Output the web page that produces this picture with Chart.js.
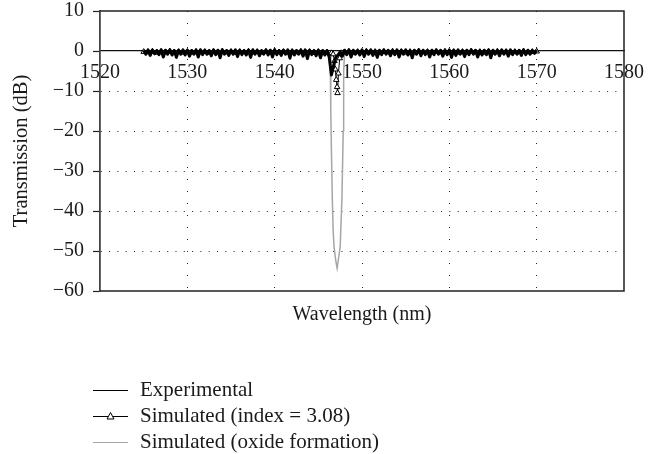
<!DOCTYPE html>
<html>
<head>
<meta charset="utf-8">
<script src="https://cdn.jsdelivr.net/npm/chart.js@4.4.1/dist/chart.umd.min.js"></script>
<style>
  html, body { margin: 0; padding: 0; background: #fff; }
  canvas { display: block; }
</style>
</head>
<body>
<canvas id="specChart" width="659" height="454"></canvas>
<script>
// Experimental spectrum (dense fringes around 0 dB, dip near 1546.5 nm)
const expWavelength = [
  1525, 1525.25, 1525.5, 1525.75, 1526, 1526.25, 1526.5, 1526.75, 1527, 1527.25, 1527.5, 1527.75,
  1528, 1528.25, 1528.5, 1528.75, 1529, 1529.25, 1529.5, 1529.75, 1530, 1530.25, 1530.5, 1530.75,
  1531, 1531.25, 1531.5, 1531.75, 1532, 1532.25, 1532.5, 1532.75, 1533, 1533.25, 1533.5, 1533.75,
  1534, 1534.25, 1534.5, 1534.75, 1535, 1535.25, 1535.5, 1535.75, 1536, 1536.25, 1536.5, 1536.75,
  1537, 1537.25, 1537.5, 1537.75, 1538, 1538.25, 1538.5, 1538.75, 1539, 1539.25, 1539.5, 1539.75,
  1540, 1540.25, 1540.5, 1540.75, 1541, 1541.25, 1541.5, 1541.75, 1542, 1542.25, 1542.5, 1542.75,
  1543, 1543.25, 1543.5, 1543.75, 1544, 1544.25, 1544.5, 1544.75, 1545, 1545.25, 1545.5, 1545.75,
  1546, 1546.25, 1546.5, 1546.75, 1547, 1547.25, 1547.5, 1547.75, 1548, 1548.25, 1548.5, 1548.75,
  1549, 1549.25, 1549.5, 1549.75, 1550, 1550.25, 1550.5, 1550.75, 1551, 1551.25, 1551.5, 1551.75,
  1552, 1552.25, 1552.5, 1552.75, 1553, 1553.25, 1553.5, 1553.75, 1554, 1554.25, 1554.5, 1554.75,
  1555, 1555.25, 1555.5, 1555.75, 1556, 1556.25, 1556.5, 1556.75, 1557, 1557.25, 1557.5, 1557.75,
  1558, 1558.25, 1558.5, 1558.75, 1559, 1559.25, 1559.5, 1559.75, 1560, 1560.25, 1560.5, 1560.75,
  1561, 1561.25, 1561.5, 1561.75, 1562, 1562.25, 1562.5, 1562.75, 1563, 1563.25, 1563.5, 1563.75,
  1564, 1564.25, 1564.5, 1564.75, 1565, 1565.25, 1565.5, 1565.75, 1566, 1566.25, 1566.5, 1566.75,
  1567, 1567.25, 1567.5, 1567.75, 1568, 1568.25, 1568.5, 1568.75, 1569, 1569.25, 1569.5, 1569.75,
  1570
];
const expDb = [
  0.2, -0.8, 0.3, -1.1, 0.2, -0.7, 0.1, -0.9, 0.3, -1.5, 0.2, -0.8,
  0.3, -1.0, 0.1, -1.6, 0.2, -0.8, 0.3, -1.0, 0.2, -1.3, 0.1, -0.8,
  0.2, -1.5, 0.3, -0.9, 0.2, -0.8, 0.1, -1.2, 0.3, -0.9, 0.2, -1.7,
  0.3, -0.8, 0.1, -1.1, 0.2, -0.8, 0.3, -1.4, 0.2, -0.9, 0.1, -1.0,
  0.2, -1.6, 0.3, -0.8, 0.2, -1.2, 0.1, -0.8, 0.3, -1.0, 0.2, -1.5,
  0.3, -0.9, 0.1, -1.1, 0.2, -0.8, 0.3, -1.8, 0.2, -1.0, 0.1, -0.8,
  0.2, -1.3, 0.3, -1.9, 0.2, -0.9, 0.1, -1.2, 0.2, -1.7, 0.1, -1.0,
  0.1, -1.6, -6.0, -3.6, -1.6, -1.0, -0.2, -1.3, 0.2, -0.9, 0.3, -1.5,
  0.2, -0.8, 0.1, -1.0, 0.3, -1.4, 0.2, -0.8, 0.3, -1.1, 0.1, -1.6,
  0.2, -0.9, 0.3, -0.8, 0.2, -1.2, 0.1, -0.9, 0.3, -1.5, 0.2, -0.8,
  0.3, -1.0, 0.1, -1.7, 0.2, -0.8, 0.3, -1.2, 0.2, -0.9, 0.1, -1.5,
  0.2, -0.9, 0.3, -0.8, 0.2, -1.3, 0.1, -0.9, 0.3, -1.6, 0.2, -1.1,
  0.3, -0.8, 0.1, -1.4, 0.2, -0.9, 0.3, -0.8, 0.2, -1.5, 0.1, -1.0,
  0.2, -0.9, 0.3, -1.7, 0.2, -0.8, 0.1, -1.2, 0.3, -0.8, 0.2, -1.3,
  0.3, -0.9, 0.1, -0.8, 0.2, -1.1, 0.3, -0.9, 0.2, -0.8, 0.1, -0.6,
  0.2
];

// Simulated, index = 3.08 (triangles)
const simWavelength = [
  1525, 1525.5, 1526, 1526.5, 1527, 1527.5, 1528, 1528.5, 1529, 1529.5, 1530, 1530.5,
  1531, 1531.5, 1532, 1532.5, 1533, 1533.5, 1534, 1534.5, 1535, 1535.5, 1536, 1536.5,
  1537, 1537.5, 1538, 1538.5, 1539, 1539.5, 1540, 1540.5, 1541, 1541.5, 1542, 1542.5,
  1543, 1543.5, 1544, 1544.5, 1545, 1545.5, 1546, 1546.5, 1546.7, 1546.85, 1546.95, 1547.05,
  1547.15, 1547.2, 1547.3, 1547.45, 1547.6, 1548, 1548.5, 1549, 1549.5, 1550, 1550.5, 1551,
  1551.5, 1552, 1552.5, 1553, 1553.5, 1554, 1554.5, 1555, 1555.5, 1556, 1556.5, 1557,
  1557.5, 1558, 1558.5, 1559, 1559.5, 1560, 1560.5, 1561, 1561.5, 1562, 1562.5, 1563,
  1563.5, 1564, 1564.5, 1565, 1565.5, 1566, 1566.5, 1567, 1567.5, 1568, 1568.5, 1569,
  1569.5, 1570
];
const simDb = [
  -0.2, -0.3, -0.1, -0.4, -0.2, -0.3, -0.1, -0.3, -0.2, -0.4, -0.2, -0.3,
  -0.1, -0.3, -0.2, -0.4, -0.2, -0.3, -0.1, -0.3, -0.2, -0.4, -0.2, -0.3,
  -0.1, -0.3, -0.2, -0.4, -0.2, -0.3, -0.1, -0.3, -0.2, -0.4, -0.2, -0.3,
  -0.1, -0.3, -0.2, -0.4, -0.2, -0.3, -0.3, -0.5, -0.8, -2.5, -4.6, -7.2,
  -9.0, -10.5, -5.6, -1.8, -0.5, -0.3, -0.2, -0.4, -0.2, -0.3, -0.1, -0.3,
  -0.2, -0.4, -0.2, -0.3, -0.1, -0.3, -0.2, -0.4, -0.2, -0.3, -0.1, -0.3,
  -0.2, -0.4, -0.2, -0.3, -0.1, -0.3, -0.2, -0.4, -0.2, -0.3, -0.1, -0.3,
  -0.2, -0.4, -0.2, -0.3, -0.1, -0.3, -0.2, -0.4, -0.2, -0.3, -0.1, -0.3,
  -0.2, -0.1
];

// Simulated, oxide formation (grey, deep notch)
const oxideWavelength = [
  1525, 1530, 1535, 1540, 1545, 1546, 1546.35, 1546.4, 1546.45, 1546.5, 1546.6, 1546.7,
  1546.8, 1547.0, 1547.15, 1547.3, 1547.5, 1547.7, 1547.85, 1547.9, 1548, 1550, 1555, 1560,
  1565, 1570
];
const oxideDb = [
  -0.3, -0.3, -0.3, -0.3, -0.3, -0.4, -0.8, -3, -15, -25, -37, -45,
  -49, -52.5, -54.3, -52, -49, -37, -20, -5, -0.6, -0.3, -0.3, -0.3,
  -0.3, -0.3
];

const seriesNames = ['Experimental', 'Simulated (index = 3.08)', 'Simulated (oxide formation)'];
const xTicks = [1520, 1530, 1540, 1550, 1560, 1570, 1580];
const yTicks = [10, 0, -10, -20, -30, -40, -50, -60];

const serif = 'Liberation Serif';
const ink = '#1a1a1a';

function toPoints(xs, ys) {
    return xs.map((x, i) => ({ x: x, y: ys[i] }));
}

// frame, x title and the vertical legend
const framePlugin = {
    id: 'frame',
    afterDatasetsDraw(chart) {
        const { ctx, chartArea: a } = chart;
        ctx.save();
        ctx.strokeStyle = '#222';
        ctx.lineWidth = 1.5;
        ctx.beginPath();
        ctx.moveTo(a.left, a.top);
        ctx.lineTo(a.right, a.top);
        ctx.lineTo(a.right, a.bottom);
        ctx.lineTo(a.left, a.bottom);
        ctx.stroke();
        ctx.restore();
    },
    afterDraw(chart) {
        const { ctx, chartArea: a } = chart;
        ctx.save();
        ctx.fillStyle = ink;
        ctx.font = '20px "' + serif + '"';
        ctx.textAlign = 'center';
        ctx.textBaseline = 'middle';
        ctx.fillText('Wavelength (nm)', (a.left + a.right) / 2, 315);

        const rowY = [390, 416, 442];
        ctx.font = '21px "' + serif + '"';
        chart.data.datasets.forEach((ds, i) => {
            const y = rowY[i] + 0.5;
            ctx.strokeStyle = ds.borderColor;
            ctx.lineWidth = 1;
            ctx.beginPath();
            ctx.moveTo(93, y);
            ctx.lineTo(128, y);
            ctx.stroke();
            if (i === 1) {
                ctx.fillStyle = '#fff';
                ctx.strokeStyle = '#000';
                ctx.beginPath();
                ctx.moveTo(110.5, y - 4);
                ctx.lineTo(114, y + 2.5);
                ctx.lineTo(107, y + 2.5);
                ctx.closePath();
                ctx.fill();
                ctx.stroke();
            }
            ctx.fillStyle = ink;
            ctx.textAlign = 'left';
            ctx.fillText(ds.label, 140, rowY[i]);
        });
        ctx.restore();
    }
};

new Chart(document.getElementById('specChart'), {
    type: 'line',
    data: {
        datasets: [{
            label: seriesNames[0],
            data: toPoints(expWavelength, expDb),
            borderColor: '#000',
            borderWidth: 3,
            borderJoinStyle: 'round',
            pointRadius: 0,
            tension: 0
        },
        {
            label: seriesNames[1],
            data: toPoints(simWavelength, simDb),
            borderColor: '#000',
            borderWidth: 1,
            pointStyle: 'triangle',
            pointRadius: 3.2,
            pointBorderWidth: 1,
            pointBorderColor: '#000',
            pointBackgroundColor: '#fff',
            tension: 0
        },
        {
            label: seriesNames[2],
            data: toPoints(oxideWavelength, oxideDb),
            borderColor: '#a6a6a6',
            borderWidth: 1.5,
            pointRadius: 0,
            tension: 0
        }]
    },
    options: {
        responsive: false,
        animation: false,
        devicePixelRatio: 1,
        layout: {
            padding: { left: 0, right: 35, top: 11, bottom: 163 }
        },
        plugins: {
            legend: { display: false },
            tooltip: { enabled: false }
        },
        scales: {
            x: {
                type: 'linear',
                position: { y: 0 },
                min: 1520,
                max: 1580,
                afterFit(s) { s.paddingLeft = 0; s.paddingRight = 0; },
                afterBuildTicks(s) { s.ticks = xTicks.map(v => ({ value: v })); },
                border: { display: true, color: '#111', width: 1.3, dash: [1, 11] },
                grid: {
                    drawTicks: false,
                    lineWidth: 1,
                    color: c => (c.tick && (c.tick.value === 1520 || c.tick.value === 1580)) ? 'rgba(0,0,0,0)' : '#222'
                },
                ticks: {
                    padding: 10,
                    color: ink,
                    font: { family: serif, size: 20 },
                    callback: v => String(v)
                }
            },
            y: {
                type: 'linear',
                position: 'left',
                min: -60,
                max: 10,
                afterFit(s) { s.width = 100; s.paddingTop = 0; s.paddingBottom = 0; },
                afterBuildTicks(s) { s.ticks = yTicks.map(v => ({ value: v })); },
                border: { display: true, color: '#444', width: 1.8, dash: [1, 7.3] },
                grid: {
                    drawTicks: true,
                    tickLength: 7,
                    tickColor: '#222',
                    tickWidth: 1.2,
                    tickBorderDash: [],
                    lineWidth: 1,
                    color: c => (c.tick && (c.tick.value === 10 || c.tick.value === 0 || c.tick.value === -60)) ? 'rgba(0,0,0,0)' : '#222'
                },
                ticks: {
                    padding: 9,
                    color: ink,
                    font: { family: serif, size: 20 },
                    callback: v => (v < 0 ? '\u2212' + Math.abs(v) : String(v))
                },
                title: {
                    display: true,
                    text: 'Transmission (dB)',
                    color: ink,
                    font: { family: serif, size: 20.5 },
                    padding: { top: 9, bottom: 0 }
                }
            }
        }
    },
    plugins: [framePlugin]
});
</script>
</body>
</html>
